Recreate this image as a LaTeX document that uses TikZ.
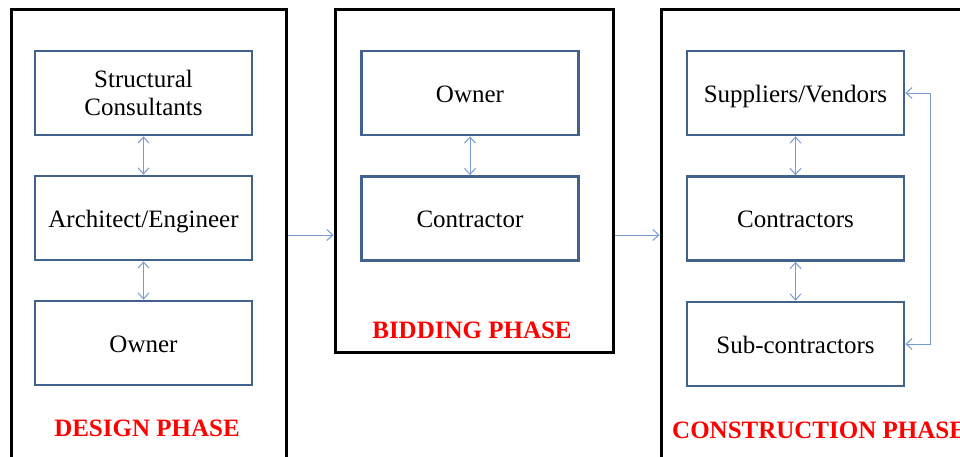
\documentclass[tikz,border=0pt]{standalone}
\usepackage{fontspec}
\setmainfont{Liberation Serif}
\usetikzlibrary{arrows.meta}
\definecolor{boxblue}{RGB}{64,98,141}
\definecolor{arrblue}{RGB}{120,156,208}
\begin{document}
\begin{tikzpicture}[x=1pt,y=-1pt,
  phasebox/.style={draw=black,line width=3pt,minimum width=#1,inner sep=0pt},
  rolebox/.style={draw=boxblue,line width=2.8pt,minimum width=217pt,minimum height=84pt,inner sep=0pt,align=center,font=\fontsize{25}{28}\selectfont},
  oneline/.style={text height=20pt,text depth=2pt},
  arr/.style={draw=arrblue,line width=1pt,{Straight Barb[length=6pt,width=11pt]}-{Straight Barb[length=6pt,width=11pt]}},
  arrone/.style={draw=arrblue,line width=1pt,-{Straight Barb[length=6pt,width=11pt]}},
  phaselabel/.style={text=red,font=\fontsize{25}{28}\selectfont\bfseries,inner sep=0pt}
]
\useasboundingbox (0,0) rectangle (960,456);
\clip (0,0) rectangle (960,456);
\fill[white] (0,0) rectangle (960,456);

% phase frames
\node[phasebox=275pt,minimum height=461pt] (design) at (148.5,239.5) {};
\node[phasebox=278pt,minimum height=343pt] (bid) at (474,180.5) {};
\node[phasebox=314pt,minimum height=461pt] (cons) at (818,239.5) {};

% design phase
\node[rolebox] (sc) at (143.5,93) {Structural\\Consultants};
\node[rolebox,oneline] (ae) at (143.5,218) {Architect/Engineer};
\node[rolebox,oneline] (ow1) at (143.5,343) {Owner};
\node[phaselabel] (dl) at (147,428) {DESIGN PHASE};

% bidding phase
\node[rolebox,oneline] (ow2) at (470,93) {Owner};
\node[rolebox,oneline] (ct) at (470,218.5) {Contractor};
\node[phaselabel] (bl) at (472,330) {BIDDING PHASE};

% construction phase
\node[rolebox,oneline] (sv) at (795.5,93) {Suppliers/Vendors};
\node[rolebox,oneline] (cs) at (795.5,218.5) {Contractors};
\node[rolebox,oneline] (sub) at (795.5,344) {Sub-contractors};
\node[phaselabel,anchor=west] (cl) at (672,430) {CONSTRUCTION PHASE};

% connectors
\draw[arr] (sc) -- (ae);
\draw[arr] (ae) -- (ow1);
\draw[arr] (ow2) -- (ct);
\draw[arr] (sv) -- (cs);
\draw[arr] (cs) -- (sub);
\draw[arr] (sv.east) -- ++(25,0) |- (sub.east);

\coordinate (hy) at (0,235);
\draw[arrone] (design.east |- hy) -- (bid.west |- hy);
\draw[arrone] (bid.east |- hy) -- (cons.west |- hy);
\end{tikzpicture}
\end{document}
